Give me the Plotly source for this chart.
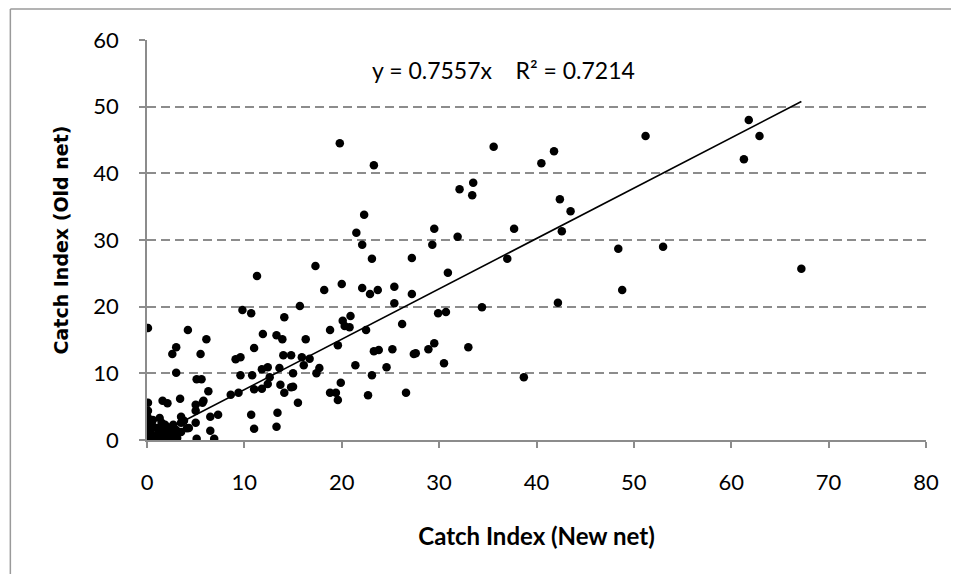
import plotly.graph_objects as go

# Catch index: new net (x) vs old net (y)
new_net = [
    67.2, 61.8, 62.9, 61.3, 51.2, 53.0, 48.4, 48.8, 43.5, 42.4, 42.6, 42.2, 41.8, 40.5,
    38.7, 37.7, 37.0, 35.6, 34.4, 33.5, 33.4, 33.0, 32.1, 31.9, 30.9, 30.7, 29.9, 30.5,
    29.5, 29.3, 29.5, 28.9, 27.2, 27.2, 27.6, 27.4, 26.6, 26.2, 25.4, 25.4, 25.2, 24.6,
    23.8, 23.7, 23.3, 23.1, 22.9, 23.3, 23.1, 22.7, 22.5, 22.3, 22.1, 22.1, 21.5, 21.4,
    20.9, 20.8, 20.3, 20.1, 20.0, 19.8, 19.9, 19.6, 19.6, 19.4, 18.8, 18.8, 18.2, 17.7,
    17.4, 17.3, 16.7, 16.3, 16.1, 15.9, 15.7, 15.5, 15.0, 14.8, 15.0, 14.8, 14.1, 14.1,
    14.0, 13.9, 13.7, 13.6, 13.3, 13.4, 13.3, 12.4, 12.4, 12.6, 11.9, 11.8, 11.8, 11.3,
    11.0, 11.0, 11.0, 10.8, 10.7, 10.7, 9.8, 9.6, 9.1, 9.6, 9.4, 8.6, 7.3, 6.9,
    6.5, 6.5, 6.3, 6.1, 5.8, 5.7, 5.6, 5.1, 5.5, 5.0, 5.0, 5.0, 5.1, 4.2,
    4.3, 3.8, 3.5, 3.5, 3.5, 3.4, 3.0, 3.0, 2.6, 2.1, 1.6, 0.1, 0.1, 0.1,
    0.05, 0.05, 0.05, 0.05, 0.05, 0.05, 0.3, 0.6, 0.5, 0.4, 0.7, 1.0, 1.2, 1.2,
    1.3, 1.5, 1.7, 1.8, 1.85, 1.9, 2.2, 2.3, 2.5, 2.7, 2.6, 2.8, 3.0, 3.1,
    0.9, 1.5, 2.0, 0.2, 4.1,
]
old_net = [
    25.7, 48.0, 45.6, 42.1, 45.6, 29.0, 28.7, 22.5, 34.3, 36.1, 31.3, 20.6, 43.3, 41.5,
    9.4, 31.7, 27.2, 44.0, 19.9, 38.6, 36.7, 13.9, 37.6, 30.5, 25.1, 19.2, 19.0, 11.5,
    31.7, 29.3, 14.5, 13.6, 27.3, 21.9, 13.0, 12.9, 7.1, 17.4, 23.0, 20.5, 13.6, 10.9,
    13.5, 22.5, 41.2, 27.2, 21.9, 13.3, 9.7, 6.7, 16.5, 33.8, 29.3, 22.8, 31.1, 11.2,
    18.6, 16.9, 17.1, 17.9, 23.4, 44.5, 8.6, 14.2, 6.0, 7.1, 7.1, 16.5, 22.5, 10.8,
    10.0, 26.1, 12.2, 15.1, 11.2, 12.4, 20.1, 5.6, 8.0, 7.9, 10.0, 12.7, 7.1, 18.4,
    12.7, 15.1, 8.3, 10.8, 15.7, 4.1, 2.0, 10.9, 8.4, 9.4, 15.9, 10.6, 7.7, 24.6,
    13.8, 7.6, 1.7, 9.7, 3.8, 19.0, 19.5, 12.4, 12.1, 9.7, 7.1, 6.8, 3.8, 0.2,
    1.4, 3.5, 7.3, 15.1, 5.9, 5.6, 9.1, 9.1, 12.9, 5.3, 4.4, 2.6, 0.2, 16.5,
    1.8, 2.9, 3.5, 2.6, 1.2, 6.2, 10.1, 13.9, 12.9, 5.5, 5.9, 16.8, 5.6, 4.4,
    3.5, 2.8, 2.0, 1.25, 0.5, 0.1, 0.9, 3.0, 2.3, 1.5, 0.3, 1.8, 0.9, 0.2,
    3.3, 1.2, 2.0, 0.5, 2.3, 1.4, 0.8, 0.2, 1.9, 2.3, 0.9, 0.2, 1.5, 0.3,
    0.6, 2.6, 1.0, 2.4, 1.75,
]

slope = 0.7557
r_squared = 0.7214
x_ticks = [0, 10, 20, 30, 40, 50, 60, 70, 80]
y_ticks = [0, 10, 20, 30, 40, 50, 60]

x_line = [0, max(new_net)]
y_line = [slope * v for v in x_line]

# page offset of the figure div (default body margin); keep page within window
OFF = 8
W, H = 959 - 2 * OFF, 582 - 2 * OFF
L, T = 147 - OFF, 40 - OFF
R, B = W - (928 - OFF), H - (440 - OFF)
PW, PH = W - L - R, H - T - B


def px_to_paper_x(px):
    return (px - OFF - L) / PW


def px_to_paper_y(py):
    return (H - B - (py - OFF)) / PH


bx0, by1 = px_to_paper_x(10), px_to_paper_y(9)
by0, bx1 = px_to_paper_y(600), px_to_paper_x(1000)

fig = go.Figure()
fig.add_trace(go.Scatter(
    x=new_net, y=old_net, mode="markers",
    marker=dict(color="black", size=8.5, line=dict(width=0)),
    showlegend=False, hoverinfo="x+y",
))
fig.add_trace(go.Scatter(
    x=x_line, y=y_line, mode="lines",
    line=dict(color="black", width=1.6),
    showlegend=False, hoverinfo="skip",
))

tick_font = dict(family="Lato, sans-serif", size=22, color="black")

fig.update_layout(
    width=W, height=H,
    margin=dict(l=L, r=R, t=T, b=B),
    paper_bgcolor="white", plot_bgcolor="white",
    xaxis=dict(
        range=[0, 80], tickvals=x_ticks, showgrid=False, zeroline=False,
        showline=True, linecolor="#8c8c8c", linewidth=1.5,
        ticks="outside", ticklen=6, tickcolor="#8c8c8c", tickwidth=1.5,
        tickfont=tick_font, ticklabelstandoff=16,
        title=dict(text="<b>Catch Index (New net)</b>",
                   font=dict(family="Lato, sans-serif", size=24, color="black"),
                   standoff=34),
        fixedrange=True,
    ),
    yaxis=dict(
        range=[0, 60], tickvals=y_ticks, showgrid=True, gridcolor="#8c8c8c",
        gridwidth=1.5, griddash="9px,5px", zeroline=False,
        showline=True, linecolor="#8c8c8c", linewidth=1.5,
        ticks="outside", ticklen=6, tickcolor="#8c8c8c", tickwidth=1.5,
        tickfont=tick_font, ticklabelstandoff=16,
        title=dict(text="<b>Catch Index (Old net)</b>",
                   font=dict(family="DejaVu Sans, sans-serif", size=19, color="black"),
                   standoff=20),
        fixedrange=True,
    ),
    shapes=[
        dict(type="line", xref="paper", yref="paper",
             x0=bx0, x1=bx0, y0=by0, y1=by1,
             line=dict(color="#9a9a9a", width=1.5), layer="below"),
        dict(type="line", xref="paper", yref="paper",
             x0=bx0, x1=bx1, y0=by1, y1=by1,
             line=dict(color="#9a9a9a", width=1.5), layer="below"),
    ],
    annotations=[dict(
        x=px_to_paper_x(504), y=px_to_paper_y(70), xref="paper", yref="paper",
        text=f"y = {slope}x    R² = {r_squared}", showarrow=False,
        font=dict(family="Lato, sans-serif", size=23, color="black"),
        xanchor="center", yanchor="middle",
    )],
)

fig.write_html("out.html")
